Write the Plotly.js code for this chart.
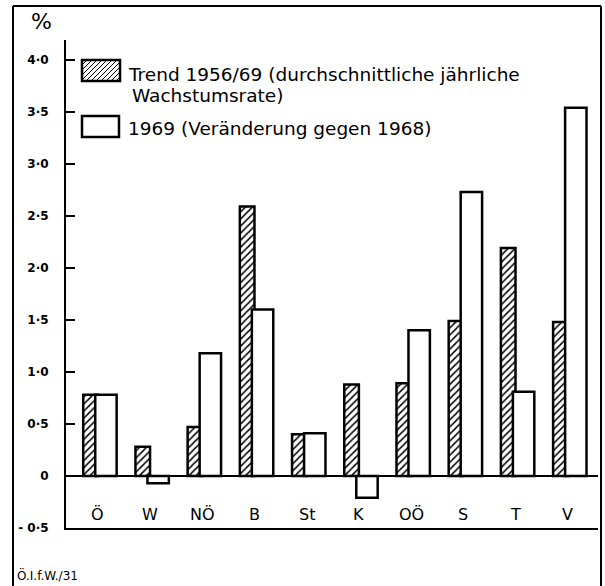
<!DOCTYPE html>
<html>
<head>
<meta charset="utf-8">
<script src="https://cdn.plot.ly/plotly-3.0.1.min.js"></script>
<style>
  html, body { margin: 0; padding: 0; background: #fff; }
  #chart { width: 605px; height: 586px; }
</style>
</head>
<body>
<div id="chart"></div>
<script>
// ---- data ----
const categories = ['Ö', 'W', 'NÖ', 'B', 'St', 'K', 'OÖ', 'S', 'T', 'V'];
const trend5669 = [0.78, 0.28, 0.47, 2.59, 0.40, 0.88, 0.89, 1.49, 2.19, 1.48];
const change1969 = [0.78, -0.07, 1.18, 1.60, 0.41, -0.21, 1.40, 2.73, 0.81, 3.54];
const yTickVals = [-0.5, 0, 0.5, 1, 1.5, 2, 2.5, 3, 3.5, 4];
const yTickText = ['- 0·5', '0', '0·5', '1·0', '1·5', '2·0', '2·5', '3·0', '3·5', '4·0'];
const seriesNames = ['Trend 1956/69 (durchschnittliche jährliche', 'Wachstumsrate)', '1969 (Veränderung gegen 1968)'];
const unitLabel = '%';
const sourceLabel = 'Ö.I.f.W./31';

// ---- layout helpers (pixel -> paper) ----
const W = 605, H = 586;
const M = { l: 66, r: 7, t: 40, b: 58 };
const PW = W - M.l - M.r, PH = H - M.t - M.b;
const px = v => (v - M.l) / PW;
const py = v => (H - M.b - v) / PH;
const FONT = 'DejaVu Sans, Liberation Sans, sans-serif';

const traces = [
  {
    type: 'bar', x: categories, y: trend5669, name: seriesNames[0],
    offset: -0.28, width: 0.28,
    marker: {
      color: 'white',
      line: { color: 'black', width: 2.5 },
      pattern: { shape: '/', fgcolor: 'black', bgcolor: 'white', size: 5, solidity: 0.3 }
    },
    showlegend: false, hoverinfo: 'x+y'
  },
  {
    type: 'bar', x: categories, y: change1969, name: seriesNames[2],
    offset: -0.05, width: 0.41,
    marker: { color: 'white', line: { color: 'black', width: 2.5 } },
    showlegend: false, hoverinfo: 'x+y'
  }
];

const shapes = [];
// outer frame (left, top, right)
shapes.push({ type: 'line', xref: 'paper', yref: 'paper', x0: px(13), y0: py(6), x1: px(13), y1: py(586), line: { color: 'black', width: 2 } });
shapes.push({ type: 'line', xref: 'paper', yref: 'paper', x0: px(13), y0: py(6), x1: px(601), y1: py(6), line: { color: 'black', width: 2 } });
shapes.push({ type: 'line', xref: 'paper', yref: 'paper', x0: px(601), y0: py(6), x1: px(601), y1: py(586), line: { color: 'black', width: 2 } });

// legend boxes
function legendBox(x0, y0, x1, y1, hatched) {
  if (hatched) {
    const step = 5;
    for (let c = x0 + y0 + step; c < x1 + y1; c += step) {
      const ax = Math.max(x0, c - y1), ay = c - ax;
      const bx = Math.min(x1, c - y0), by = c - bx;
      shapes.push({ type: 'line', xref: 'paper', yref: 'paper', x0: px(ax), y0: py(ay), x1: px(bx), y1: py(by), line: { color: 'black', width: 1 } });
    }
  }
  shapes.push({ type: 'rect', xref: 'paper', yref: 'paper', x0: px(x0), y0: py(y0), x1: px(x1), y1: py(y1), line: { color: 'black', width: 2.5 } });
}
legendBox(82, 60, 120, 81, true);
legendBox(82, 116, 119, 137, false);

const annotations = [];
// category labels inside plot, above the bottom axis line
categories.forEach(c => annotations.push({
  x: c, y: -0.37, xref: 'x', yref: 'y', text: c, showarrow: false,
  font: { family: FONT, size: 16, color: 'black' }, xanchor: 'center', yanchor: 'middle'
}));
const LF = { family: FONT, size: 18.5, color: 'black' };
annotations.push({ xref: 'paper', yref: 'paper', x: px(126), y: py(74), text: seriesNames[0], showarrow: false, xanchor: 'left', yanchor: 'middle', font: LF });
annotations.push({ xref: 'paper', yref: 'paper', x: px(130), y: py(95), text: seriesNames[1], showarrow: false, xanchor: 'left', yanchor: 'middle', font: LF });
annotations.push({ xref: 'paper', yref: 'paper', x: px(126), y: py(129), text: seriesNames[2], showarrow: false, xanchor: 'left', yanchor: 'middle', font: LF });
annotations.push({ xref: 'paper', yref: 'paper', x: px(41), y: py(21), text: unitLabel, showarrow: false, xanchor: 'center', yanchor: 'middle', font: { family: FONT, size: 22, color: 'black' } });
annotations.push({ xref: 'paper', yref: 'paper', x: px(15), y: py(575), text: sourceLabel, showarrow: false, xanchor: 'left', yanchor: 'middle', font: { family: FONT, size: 12, color: 'black' } });

const layout = {
  width: W, height: H,
  margin: M,
  paper_bgcolor: 'white', plot_bgcolor: 'white',
  barmode: 'overlay',
  showlegend: false,
  font: { family: FONT, color: 'black' },
  xaxis: {
    type: 'category', range: [-0.61, 9.58],
    showticklabels: false, ticks: '', showgrid: false, zeroline: false,
    showline: true, linecolor: 'black', linewidth: 2, fixedrange: true
  },
  yaxis: {
    range: [-0.5, 4.19],
    tickvals: yTickVals, ticktext: yTickText,
    ticks: 'inside', ticklen: 9, tickwidth: 2, tickcolor: 'black',
    ticklabelstandoff: 13,
    tickfont: { family: FONT, size: 12, color: 'black', weight: 'bold' },
    showgrid: false, zeroline: true, zerolinecolor: 'black', zerolinewidth: 2,
    showline: true, linecolor: 'black', linewidth: 2, fixedrange: true
  },
  shapes: shapes,
  annotations: annotations
};

Plotly.newPlot('chart', traces, layout, { displayModeBar: false, staticPlot: true });
</script>
</body>
</html>
